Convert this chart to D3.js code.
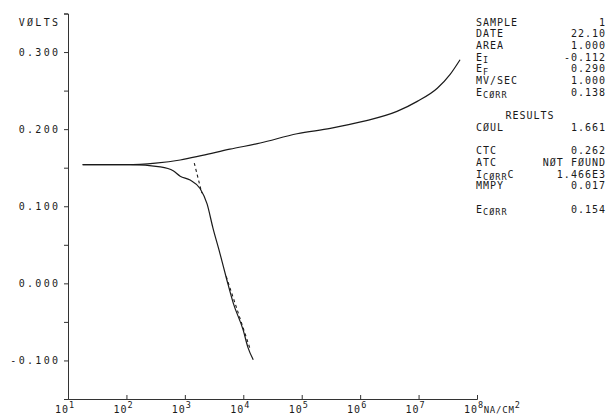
<!DOCTYPE html>
<html><head><meta charset="utf-8">
<script src="https://cdn.jsdelivr.net/npm/d3@7"></script>
<style>
html,body{margin:0;padding:0;background:#fff;}
svg text{font-family:"DejaVu Sans Mono",monospace;fill:#1a1a1a;}
</style></head><body>
<svg id="chart" width="607" height="416"></svg>
<script>
// Potentiodynamic scan: current density (nA/cm^2) vs potential (V)
const anodicCurrent   = [17.8, 100, 316, 832, 1995, 5890, 19500, 83200, 309000, 1.12e6, 4.27e6, 9.5e6, 2.09e7, 3.47e7, 5.13e7];
const anodicPotential = [0.154, 0.154, 0.156, 0.160, 0.166, 0.174, 0.182, 0.194, 0.201, 0.210, 0.223, 0.236, 0.253, 0.271, 0.290];

const cathodicCurrent   = [17.8, 115, 380, 631, 832, 1230, 1820, 2400, 3020, 3980, 5250, 6760, 10000, 12000, 14800];
const cathodicPotential = [0.154, 0.154, 0.151, 0.146, 0.139, 0.134, 0.123, 0.103, 0.072, 0.039, 0.004, -0.026, -0.061, -0.083, -0.099];

// Tafel extrapolation segments (dashed)
const tafelCurrentA   = [1450, 1950];
const tafelPotentialA = [0.156, 0.117];
const tafelCurrentB   = [5100, 13200];
const tafelPotentialB = [0.009, -0.086];

// Axes
const yTickValues  = [-0.15, -0.10, -0.05, 0.00, 0.05, 0.10, 0.15, 0.20, 0.25, 0.30, 0.35];
const yLabelValues = [-0.10, 0.00, 0.10, 0.20, 0.30];
const yLabelText   = ["-0.100", "0.000", "0.100", "0.200", "0.300"];
const xExponents   = [1, 2, 3, 4, 5, 6, 7, 8];
const yTitle = "VØLTS";
const xUnit  = "NA/CM";
const xUnitPower = "2";

// Run parameters and results (blank entries are empty printer lines)
const paramLabels = ["SAMPLE", "DATE", "AREA", "E_I", "E_F", "MV/SEC", "E_CØRR"];
const paramValues = ["1", "22.10", "1.000", "-0.112", "0.290", "1.000", "0.138"];
const resultsTitle = "RESULTS";
const resultLabels = ["CØUL", "", "CTC", "ATC", "I_CØRR^C", "MMPY", "", "E_CØRR"];
const resultValues = ["1.661", "", "0.262", "NØT FØUND", "1.466E3", "0.017", "", "0.154"];

const svg = d3.select("#chart");
const x = d3.scaleLog().domain([1e1, 1e8]).range([68, 477]);
const y = d3.scaleLinear().domain([-0.15, 0.35]).range([399, 13.5]);

const ink = "#1a1a1a";

// y axis
const gy = svg.append("g").attr("transform", "translate(68,0)")
  .call(d3.axisLeft(y).tickValues(yTickValues).tickSize(4).tickSizeOuter(4).tickFormat(() => ""));
gy.selectAll("path,line").attr("stroke", "#333").attr("stroke-width", 1);

const axisFont = 10, axisSpacing = 2.3;
svg.append("g").selectAll("text").data(yLabelValues).join("text")
  .attr("x", 58 + axisSpacing).attr("y", d => y(d))
  .attr("dy", "0.36em").attr("text-anchor", "end")
  .attr("font-size", axisFont).attr("letter-spacing", axisSpacing)
  .text((d, i) => yLabelText[i]);

svg.append("text").attr("x", 58 + axisSpacing).attr("y", 22.5).attr("dy", "0.36em")
  .attr("text-anchor", "end").attr("font-size", axisFont).attr("letter-spacing", axisSpacing)
  .text(yTitle);

// x axis
const gx = svg.append("g").attr("transform", "translate(0,399)")
  .call(d3.axisBottom(x).tickValues(xExponents.map(e => Math.pow(10, e)))
    .tickSize(-4).tickSizeOuter(-4).tickFormat(() => ""));
gx.selectAll("path,line").attr("stroke", "#333").attr("stroke-width", 1);

const xl = svg.append("g");
xExponents.forEach(e => {
  const px = x(Math.pow(10, e));
  xl.append("text").attr("x", px + 1).attr("y", 413).attr("text-anchor", "end")
    .attr("font-size", axisFont).attr("letter-spacing", 1).text("10");
  const sup = xl.append("text").attr("x", px + 1).attr("y", 408)
    .attr("font-size", 8.5).attr("letter-spacing", 0.5);
  sup.append("tspan").text(String(e));
  if (e === xExponents[xExponents.length - 1]) {
    sup.append("tspan").attr("dy", 4.5).attr("font-size", 9).attr("letter-spacing", 0.8).text(xUnit);
    sup.append("tspan").attr("dy", -4.5).attr("font-size", 8.5).text(xUnitPower);
  }
});

// curves
const line = d3.line().x(d => x(d[0])).y(d => y(d[1])).curve(d3.curveMonotoneX);
const anodic = anodicCurrent.map((c, i) => [c, anodicPotential[i]]);
const cathodic = cathodicCurrent.map((c, i) => [c, cathodicPotential[i]]);
[anodic, cathodic].forEach(pts => {
  svg.append("path").attr("d", line(pts)).attr("fill", "none")
    .attr("stroke", ink).attr("stroke-width", 1.2).attr("stroke-linejoin", "round");
});

const straight = d3.line().x(d => x(d[0])).y(d => y(d[1]));
[[tafelCurrentA, tafelPotentialA], [tafelCurrentB, tafelPotentialB]].forEach(([cs, es]) => {
  svg.append("path").attr("d", straight(cs.map((c, i) => [c, es[i]])))
    .attr("fill", "none").attr("stroke", ink).attr("stroke-width", 1.1)
    .attr("stroke-dasharray", "3,3");
});

// information panel, laid out on fixed printer lines
const panelLeft = 476, panelRight = 605, rowStep = 11.7, firstBase = 25.5;
const panelFont = 10, subFont = 8.5, subShift = 2.2, panelSpacing = 1;
function labelText(sel, label) {
  // "_" starts a lowered run, "^" returns to the base line
  const parts = label.split(/([_^])/);
  let mode = 0;
  parts.forEach(p => {
    if (p === "_") { mode = 1; return; }
    if (p === "^") { mode = 0; return; }
    if (!p) return;
    sel.append("tspan")
      .attr("y", +sel.attr("y") + (mode ? subShift : 0))
      .attr("font-size", mode ? subFont : panelFont)
      .text(p);
  });
}
const panel = svg.append("g").attr("font-size", panelFont);
function row(i, lab, val) {
  const yy = firstBase + i * rowStep;
  labelText(panel.append("text").attr("x", panelLeft).attr("y", yy).attr("letter-spacing", panelSpacing), lab);
  panel.append("text").attr("x", panelRight + panelSpacing).attr("y", yy).attr("text-anchor", "end")
    .attr("letter-spacing", panelSpacing).text(val);
}
paramLabels.forEach((lab, i) => row(i, lab, paramValues[i]));
const resultsLine = paramLabels.length + 1;
panel.append("text").attr("x", 530).attr("y", firstBase + resultsLine * rowStep)
  .attr("text-anchor", "middle").attr("letter-spacing", panelSpacing).text(resultsTitle);
resultLabels.forEach((lab, i) => { if (lab) row(resultsLine + 1 + i, lab, resultValues[i]); });
</script></body></html>
